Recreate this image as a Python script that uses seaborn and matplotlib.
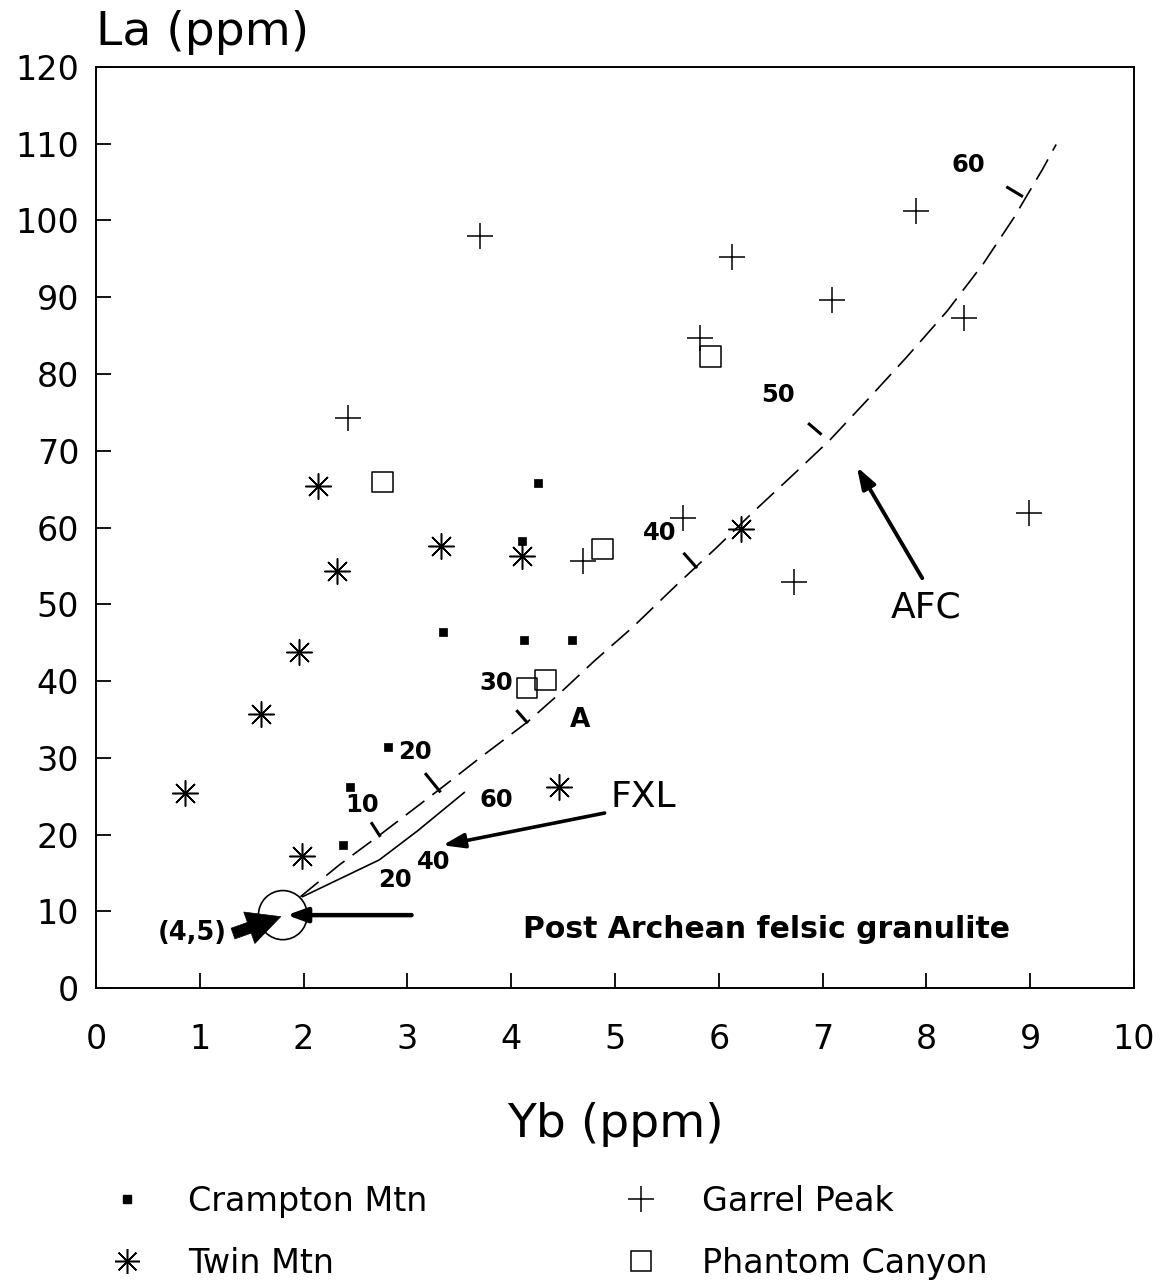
import matplotlib
matplotlib.use("Agg")
import matplotlib.pyplot as plt
import seaborn as sns
from matplotlib.markers import MarkerStyle
from matplotlib.lines import Line2D
from matplotlib.patches import Ellipse

# ---------------- data ----------------
crampton_yb = [4.26, 4.10, 3.34, 4.12, 4.59, 2.81, 2.45, 2.38]
crampton_la = [65.8, 58.2, 46.4, 45.3, 45.3, 31.4, 26.2, 18.6]

twin_yb = [2.14, 3.32, 4.10, 2.32, 1.96, 1.59, 0.86, 4.46, 1.98, 6.21]
twin_la = [65.4, 57.6, 56.3, 54.3, 43.8, 35.7, 25.4, 26.2, 17.2, 59.8]

garrel_yb = [3.70, 6.13, 7.90, 7.09, 8.36, 5.82, 2.43, 5.66, 8.99, 6.72, 4.69]
garrel_la = [98.0, 95.2, 101.2, 89.6, 87.3, 84.7, 74.3, 61.2, 61.9, 52.9, 55.6]

phantom_yb = [2.76, 4.88, 5.92, 4.15, 4.33]
phantom_la = [65.9, 57.2, 82.3, 39.1, 40.1]

# AFC model curve (dashed) and FXL model curve (solid)
afc_yb = [1.97, 2.34, 2.73, 3.34, 3.70, 4.16, 4.46, 4.80, 5.17, 5.60, 5.98, 6.33,
          6.75, 7.07, 7.43, 7.81, 8.20, 8.55, 8.84, 9.12, 9.25]
afc_la = [11.9, 16.0, 19.9, 26.2, 30.0, 34.7, 38.3, 42.6, 47.0, 52.6, 57.4, 62.0,
          67.3, 71.4, 76.6, 82.2, 88.2, 94.4, 100.3, 106.7, 109.9]
fxl_yb = [1.99, 2.73, 3.10, 3.55]
fxl_la = [11.9, 16.7, 20.5, 25.5]

# tick marks on the AFC curve (percent crystallised)
afc_tick_labels = ["10", "20", "30", "40", "50", "60"]
afc_tick_x0 = [2.65, 3.17, 4.05, 5.66, 6.86, 8.77]
afc_tick_y0 = [21.6, 28.0, 36.2, 56.7, 73.6, 104.4]
afc_tick_x1 = [2.74, 3.32, 4.16, 5.79, 6.99, 8.93]
afc_tick_y1 = [19.7, 25.5, 34.5, 54.7, 72.1, 103.1]
afc_label_x = [2.56, 3.07, 3.86, 5.43, 6.57, 8.40]
afc_label_y = [23.8, 30.7, 39.7, 59.3, 77.3, 107.2]

fxl_tick_labels = ["20", "40", "60"]
fxl_label_x = [2.88, 3.25, 3.86]
fxl_label_y = [14.1, 16.4, 24.5]

x_ticks = list(range(0, 11))
y_ticks = list(range(0, 121, 10))

# ---------------- style ----------------
sns.set_theme(style="ticks")
plt.rcParams["font.family"] = ["DejaVu Sans"]
plt.rcParams["text.color"] = "black"
plt.rcParams["axes.labelcolor"] = "black"
plt.rcParams["xtick.color"] = "black"
plt.rcParams["ytick.color"] = "black"

fig = plt.figure(figsize=(11.62, 12.83), dpi=100)
ax = fig.add_axes([0.0826, 0.2299, 0.8933, 0.7179])

mlw = 1.1
sns.scatterplot(x=crampton_yb, y=crampton_la, marker="s", s=26, color="black",
                edgecolor="black", linewidth=0.5, ax=ax, zorder=3)
sns.scatterplot(x=twin_yb, y=twin_la, marker=(8, 2, 0), s=340, color="black",
                linewidth=mlw, ax=ax, zorder=3)
sns.scatterplot(x=garrel_yb, y=garrel_la, marker="+", s=360, color="black",
                linewidth=mlw, ax=ax, zorder=3)
sns.scatterplot(x=phantom_yb, y=phantom_la, marker=MarkerStyle("s", fillstyle="none"),
                s=215, color="black", linewidth=mlw, ax=ax, zorder=3)

# model curves
sns.lineplot(x=afc_yb, y=afc_la, sort=False, estimator=None, color="black",
             linewidth=1.2, ax=ax, linestyle=(0, (14, 6)))
sns.lineplot(x=fxl_yb, y=fxl_la, sort=False, estimator=None, color="black",
             linewidth=1.2, ax=ax)

for x0, y0, x1, y1 in zip(afc_tick_x0, afc_tick_y0, afc_tick_x1, afc_tick_y1):
    ax.plot([x0, x1], [y0, y1], color="black", linewidth=2.2, solid_capstyle="butt")

bold_kw = dict(fontsize=17.5, fontweight="bold", ha="center", va="center", color="black")
for t, x, y in zip(afc_tick_labels, afc_label_x, afc_label_y):
    ax.text(x, y, t, **bold_kw)
for t, x, y in zip(fxl_tick_labels, fxl_label_x, fxl_label_y):
    ax.text(x, y, t, **bold_kw)

ax.text(4.66, 34.9, "A", fontsize=19, fontweight="bold", ha="center", va="center")
ax.text(5.27, 24.9, "FXL", fontsize=26, ha="center", va="center")
ax.text(8.0, 49.6, "AFC", fontsize=26, ha="center", va="center")
ax.text(0.93, 7.2, "(4,5)", fontsize=18.5, fontweight="bold", ha="center", va="center")
ax.text(6.46, 7.6, "Post Archean felsic granulite", fontsize=21.5, fontweight="bold",
        ha="center", va="center")

# circle around the source composition
ax.add_patch(Ellipse((1.80, 9.5), width=0.47, height=6.4, fill=False,
                     edgecolor="black", linewidth=1.2))

# arrows
ax.annotate("", xy=(3.34, 18.6), xytext=(4.90, 22.8),
            arrowprops=dict(arrowstyle="-|>,head_length=0.65,head_width=0.22",
                            color="black", lw=2.6, mutation_scale=20,
                            shrinkA=0, shrinkB=0))
ax.annotate("", xy=(7.33, 67.9), xytext=(7.96, 53.4),
            arrowprops=dict(arrowstyle="-|>,head_length=0.65,head_width=0.22",
                            color="black", lw=2.8, mutation_scale=20,
                            shrinkA=0, shrinkB=0))
ax.annotate("", xy=(1.84, 9.5), xytext=(3.04, 9.5),
            arrowprops=dict(arrowstyle="-|>,head_length=0.6,head_width=0.22",
                            color="black", lw=3.2, mutation_scale=20,
                            shrinkA=0, shrinkB=0))
ax.annotate("", xy=(1.78, 9.3), xytext=(1.32, 7.1),
            arrowprops=dict(arrowstyle="simple,head_length=1.0,head_width=1.0,tail_width=0.34",
                            fc="black", ec="black", lw=0.5, mutation_scale=24,
                            shrinkA=0, shrinkB=0))

# axes
ax.set_xlim(0, 10)
ax.set_ylim(0, 120)
ax.set_xticks(x_ticks)
ax.set_yticks(y_ticks)
for sp in ax.spines.values():
    sp.set_linewidth(1.4)
    sp.set_color("black")
ax.tick_params(direction="in", length=11, width=1.3, labelsize=24, colors="black",
               top=False, right=False)
ax.tick_params(axis="x", pad=25)
ax.tick_params(axis="y", pad=12)
ax.grid(False)

ax.set_xlabel("Yb (ppm)", fontsize=34, va="baseline")
ax.xaxis.set_label_coords(0.5, -0.162)
ax.set_ylabel("La (ppm)", fontsize=34, rotation=0, ha="left", va="baseline")
ax.yaxis.set_label_coords(0.0, 1.024)

# legend
handles = [
    Line2D([], [], linestyle="none", marker="s", markersize=5.1, color="black"),
    Line2D([], [], linestyle="none", marker=(8, 2, 0), markersize=18, color="black",
           markeredgewidth=mlw),
    Line2D([], [], linestyle="none", marker="+", markersize=19, color="black",
           markeredgewidth=mlw),
    Line2D([], [], linestyle="none", marker="s", markersize=14.5, color="black",
           markerfacecolor="none", markeredgewidth=mlw),
]
labels = ["Crampton Mtn", "Twin Mtn", "Garrel Peak", "Phantom Canyon"]
fig.legend(handles, labels, loc="upper left", bbox_to_anchor=(0.0949, 0.0764),
           ncol=2, frameon=False, fontsize=24, handlelength=1.0, handletextpad=1.33,
           columnspacing=5.9, labelspacing=0.87, borderpad=0, borderaxespad=0)

fig.savefig("out.png", dpi=100)
